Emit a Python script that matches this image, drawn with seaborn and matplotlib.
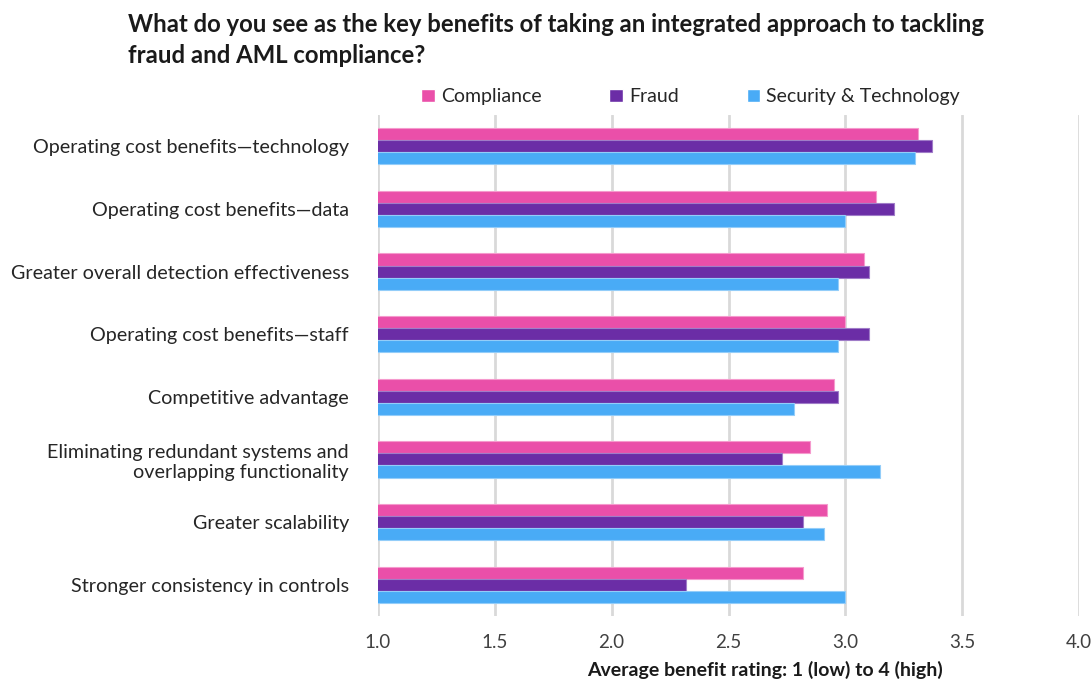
import matplotlib
matplotlib.use("Agg")
import matplotlib.pyplot as plt
import seaborn as sns
import pandas as pd

categories = [
    "Operating cost benefits\u2014technology",
    "Operating cost benefits\u2014data",
    "Greater overall detection effectiveness",
    "Operating cost benefits\u2014staff",
    "Competitive advantage",
    "Eliminating redundant systems and\noverlapping functionality",
    "Greater scalability",
    "Stronger consistency in controls",
]
compliance = [3.31, 3.13, 3.08, 3.00, 2.95, 2.85, 2.92, 2.82]
fraud = [3.37, 3.21, 3.10, 3.10, 2.97, 2.73, 2.82, 2.32]
security_tech = [3.30, 3.00, 2.97, 2.97, 2.78, 3.15, 2.91, 3.00]
series_names = ["Compliance", "Fraud", "Security & Technology"]
colors = ["#EA4FA9", "#6B2DA6", "#49ABF6"]
edge_colors = ["#F59ACD", "#A07CC8", "#93CDF9"]
x_ticks = [1.0, 1.5, 2.0, 2.5, 3.0, 3.5, 4.0]

rows = []
for name, vals in zip(series_names, [compliance, fraud, security_tech]):
    for cat, v in zip(categories, vals):
        rows.append({"category": cat, "series": name, "value": v})
df = pd.DataFrame(rows)

sns.set_theme(style="white")
plt.rcParams["font.family"] = ["Lato", "DejaVu Sans"]

fig = plt.figure(figsize=(10.92, 6.82), dpi=100)
ax = fig.add_axes([378 / 1092, 1 - 616 / 682, (1079 - 378) / 1092, (616 - 115) / 682])

sns.barplot(
    data=df, x="value", y="category", hue="series", orient="h",
    palette=colors, width=0.58, ax=ax, legend=True, saturation=1,
)

# lighter outlines on each series' bars
for container, ec in zip(ax.containers, edge_colors):
    for bar in container:
        bar.set_edgecolor(ec)
        bar.set_linewidth(0.8)

ax.set_xlim(1.0, 4.0)
ax.set_ylim(7.5, -0.5)
ax.set_xticks(x_ticks)
ax.set_xticklabels([f"{t:.1f}" for t in x_ticks], fontsize=13.5, color="#404040")
ax.tick_params(axis="y", labelsize=14.2, colors="#262626", length=0, pad=21)
ax.tick_params(axis="x", length=0, pad=13)
for lab in ax.get_yticklabels():
    lab.set_horizontalalignment("right")
    lab.set_multialignment("right")
ax.set_ylabel("")
ax.set_xlabel("")

ax.grid(axis="x", color="#D9D9D9", linewidth=2)
ax.set_axisbelow(True)
for s in ax.spines.values():
    s.set_visible(False)

handles, labels = ax.get_legend_handles_labels()
ax.legend(handles, labels, loc="lower left", bbox_to_anchor=(0.048, 1.0), ncol=3,
          frameon=False, fontsize=14, handlelength=0.7, handleheight=0.7,
          handletextpad=0.3, columnspacing=3.5, borderaxespad=0.1)

fig.text(765 / 1092, 1 - 670 / 682, "Average benefit rating: 1 (low) to 4 (high)",
         ha="center", va="center", fontsize=14, fontweight="bold", color="#1a1a1a")

fig.text(128 / 1092, 1 - 13 / 682,
         "What do you see as the key benefits of taking an integrated approach to tackling\n"
         "fraud and AML compliance?",
         ha="left", va="top", fontsize=17.2, fontweight="bold", color="#1a1a1a",
         linespacing=1.4)

fig.savefig("out.png", dpi=100)
